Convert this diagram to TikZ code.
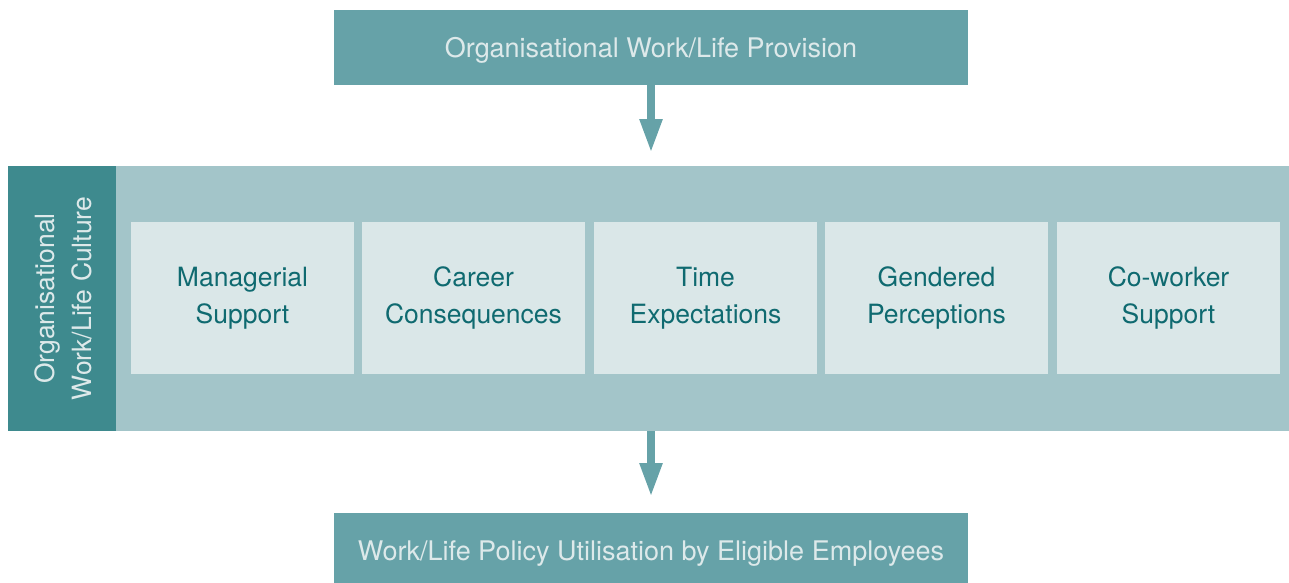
\documentclass[tikz,border=0pt]{standalone}
\usepackage{fontspec}
\setmainfont{TeX Gyre Heros}
\usetikzlibrary{arrows.meta}
\definecolor{boxteal}{HTML}{66A2A8}
\definecolor{bandteal}{HTML}{A3C5C9}
\definecolor{darkteal}{HTML}{3E8A8E}
\definecolor{innerfill}{HTML}{DAE7E8}
\definecolor{lighttext}{HTML}{DDE9EA}
\definecolor{innertext}{HTML}{0F6A70}
\tikzset{
  mainbox/.style={fill=boxteal, draw=none, inner sep=0pt, text=lighttext, text depth=0pt, font=\fontsize{27}{32}\selectfont},
  factor/.style={fill=innerfill, draw=none, inner sep=0pt, minimum width=223pt, minimum height=152pt,
     text=innertext, align=center, font=\fontsize{26.5}{37}\selectfont},
  flow/.style={draw=boxteal, line width=8pt, -{Triangle[length=34pt,width=21pt]}, shorten >=0pt}
}
\begin{document}
\begin{tikzpicture}[x=1pt,y=-1pt]
\useasboundingbox (0,0) rectangle (1289,582);
% top box
\node[mainbox, minimum width=634pt, minimum height=75pt] (prov) at (651,47.5) {Organisational Work/Life Provision};
% band
\node[fill=bandteal, inner sep=0pt, minimum width=1281pt, minimum height=265pt] (band) at (648.5,298.5) {};
\node[fill=darkteal, inner sep=0pt, minimum width=108pt, minimum height=265pt] (culture) at (62,298.5) {};
\node[rotate=90, text=lighttext, align=center, font=\fontsize{26.5}{37}\selectfont] (culturetext) at (63,298.5) {Organisational\\Work/Life Culture};
% factors
\node[factor] (f1) at (242.5,298) {Managerial\\Support};
\node[factor] (f2) at (473.5,298) {Career\\Consequences};
\node[factor] (f3) at (705.5,298) {Time\\Expectations};
\node[factor] (f4) at (936.5,298) {Gendered\\Perceptions};
\node[factor] (f5) at (1168.5,298) {Co-worker\\Support};
% bottom box
\node[mainbox, minimum width=634pt, minimum height=75pt, anchor=north] (util) at (651,513) {Work/Life Policy Utilisation by Eligible Employees};
% arrows
\coordinate (a1end) at (651,153);
\coordinate (a2end) at (651,497);
\draw[flow] (prov.south) -- (a1end);
\draw[flow] (band.south -| prov.south) -- (a2end);
\end{tikzpicture}
\end{document}
